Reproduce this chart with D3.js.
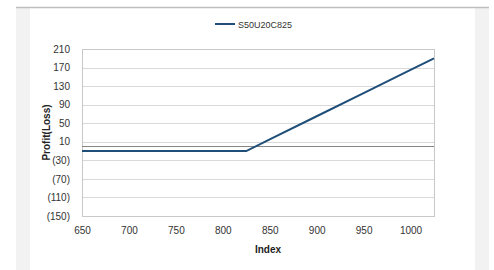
<!DOCTYPE html>
<html>
<head>
<meta charset="utf-8">
<script src="https://cdn.jsdelivr.net/npm/d3@7"></script>
<style>
  body { margin: 0; background: #fff; }
  svg { display: block; font-family: "Liberation Sans", Arial, sans-serif; }
</style>
</head>
<body>
<svg id="chart"></svg>
<script>
// payoff of one call, strike 825, premium 10
const seriesName = "S50U20C825";
const indexValues = [650, 700, 750, 800, 825, 850, 900, 950, 1000, 1025];
const profitValues = [-10, -10, -10, -10, -10, 15, 65, 115, 165, 190];
const yTicks = [-150, -110, -70, -30, 10, 50, 90, 130, 170, 210];
const xTicks = [650, 700, 750, 800, 850, 900, 950, 1000];

const width = 494, height = 270;
const plot = { left: 82, top: 49, right: 434, bottom: 216 };

const svg = d3.select("#chart").attr("width", width).attr("height", height);

// page frame
svg.append("rect").attr("x", 16).attr("y", 7).attr("width", 473).attr("height", height - 7).attr("fill", "#f2f2f2");
svg.append("rect").attr("x", 30).attr("y", 8).attr("width", 445).attr("height", height - 8).attr("fill", "#fff");
svg.append("line").attr("x1", 16).attr("x2", 489).attr("y1", 7.5).attr("y2", 7.5)
    .attr("stroke", "#bfbfbf").attr("stroke-width", 1.5);

const x = d3.scaleLinear().domain([650, 1025]).range([plot.left, plot.right]);
const y = d3.scaleLinear().domain([-150, 210]).range([plot.bottom, plot.top]);

// gridlines
svg.append("g")
    .selectAll("line")
    .data(yTicks)
    .join("line")
    .attr("x1", plot.left).attr("x2", plot.right)
    .attr("y1", d => Math.round(y(d)) + 0.5).attr("y2", d => Math.round(y(d)) + 0.5)
    .attr("stroke", "#d9d9d9");

// plot border
svg.append("rect")
    .attr("x", plot.left + 0.5).attr("y", Math.round(plot.top) + 0.5)
    .attr("width", plot.right - plot.left).attr("height", plot.bottom - plot.top)
    .attr("fill", "none").attr("stroke", "#c8c8c8");

// zero line
svg.append("line")
    .attr("x1", plot.left).attr("x2", plot.right)
    .attr("y1", Math.round(y(0)) + 0.5).attr("y2", Math.round(y(0)) + 0.5)
    .attr("stroke", "#868686");

const fmt = d => d < 0 ? `(${-d})` : `${d}`;

const yAxis = svg.append("g")
    .attr("transform", `translate(${plot.left - 9}, 0)`)
    .call(d3.axisLeft(y).tickValues(yTicks).tickFormat(fmt).tickSize(0));
yAxis.select(".domain").remove();
yAxis.selectAll("text").attr("font-size", 10).attr("fill", "#333").attr("font-family", "Liberation Sans");

const xAxis = svg.append("g")
    .attr("transform", `translate(0, ${plot.bottom + 8})`)
    .call(d3.axisBottom(x).tickValues(xTicks).tickFormat(d3.format("d")).tickSize(0));
xAxis.select(".domain").remove();
xAxis.selectAll("text").attr("font-size", 10).attr("fill", "#333").attr("font-family", "Liberation Sans");

// series line
const line = d3.line().x((d, i) => x(indexValues[i])).y(d => y(d));
svg.append("path")
    .datum(profitValues)
    .attr("d", line)
    .attr("fill", "none")
    .attr("stroke", "#1f4e79")
    .attr("stroke-width", 2);

// axis titles
svg.append("text")
    .attr("x", 268).attr("y", 253)
    .attr("text-anchor", "middle")
    .attr("font-size", 10).attr("font-weight", "bold").attr("fill", "#222")
    .text("Index");

svg.append("text")
    .attr("transform", `translate(50, ${(plot.top + plot.bottom) / 2}) rotate(-90)`)
    .attr("text-anchor", "middle")
    .attr("font-size", 10).attr("font-weight", "bold").attr("fill", "#222")
    .text("Profit(Loss)");

// legend
const legend = svg.append("g").attr("transform", "translate(215, 24)");
legend.append("line").attr("x1", 0).attr("x2", 20).attr("y1", 0).attr("y2", 0)
    .attr("stroke", "#1f4e79").attr("stroke-width", 2);
legend.append("text").attr("x", 23).attr("y", 3.5)
    .attr("font-size", 9).attr("fill", "#333")
    .text(seriesName);
</script>
</body>
</html>
